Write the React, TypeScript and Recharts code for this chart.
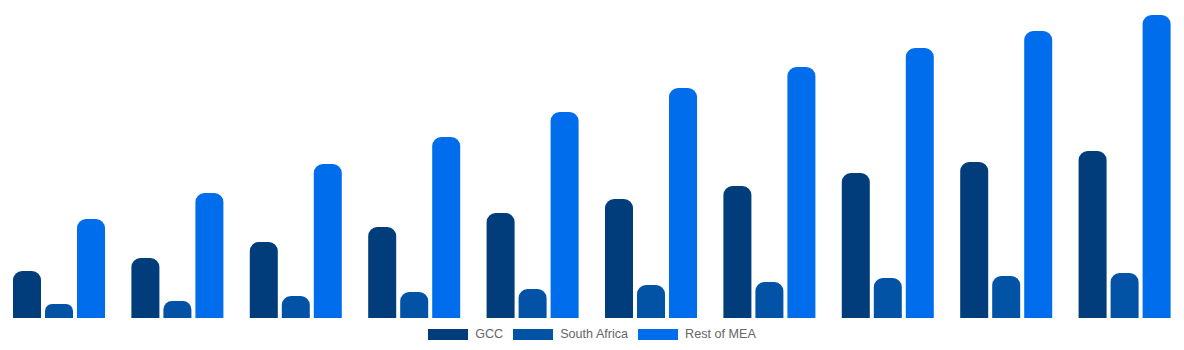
import { BarChart, Bar, XAxis, YAxis, Legend } from 'recharts';

const years = ['2024', '2025', '2026', '2027', '2028', '2029', '2030', '2031', '2032', '2033'];
const gcc = [4.7, 6.0, 7.6, 9.1, 10.5, 11.9, 13.2, 14.5, 15.6, 16.7];
const southAfrica = [1.4, 1.7, 2.2, 2.6, 2.9, 3.3, 3.6, 4.0, 4.2, 4.5];
const restOfMea = [9.9, 12.5, 15.4, 18.1, 20.6, 23.0, 25.1, 27.0, 28.7, 30.3];

const SERIES = [
    { key: 'gcc', name: 'GCC', color: '#023d7b' },
    { key: 'southAfrica', name: 'South Africa', color: '#0253a6' },
    { key: 'restOfMea', name: 'Rest of MEA', color: '#006ded' },
];

const data = years.map((year, i) => ({
    year,
    gcc: gcc[i],
    southAfrica: southAfrica[i],
    restOfMea: restOfMea[i],
}));

const CustomLegend = () => (
    <div
        style={{
            display: 'flex',
            justifyContent: 'center',
            alignItems: 'center',
            paddingTop: 9,
            fontFamily: '"Liberation Sans", Arial, sans-serif',
            fontSize: 12.6,
            color: '#666',
        }}
    >
        {SERIES.map((s, index) => (
            <div key={index} style={{ display: 'flex', alignItems: 'center', marginRight: index < SERIES.length - 1 ? 10 : 0 }}>
                <div style={{ width: 40, height: 11, backgroundColor: s.color, marginRight: 7 }} />
                <span>{s.name}</span>
            </div>
        ))}
    </div>
);

export default function App() {
    return (
        <div style={{ position: 'absolute', left: 0, top: 0, width: 1184, height: 350, background: '#fff' }}>
            <BarChart
                width={1184}
                height={350}
                data={data}
                margin={{ top: 15, right: 0, bottom: 0, left: 0 }}
                barCategoryGap={13}
                barGap={4}
            >
                <XAxis dataKey="year" hide />
                <YAxis hide domain={[0, 30.3]} />
                <Legend verticalAlign="bottom" height={32} content={<CustomLegend />} />
                {SERIES.map((s) => (
                    <Bar
                        key={s.key}
                        dataKey={s.key}
                        name={s.name}
                        fill={s.color}
                        radius={[9, 9, 0, 0]}
                        isAnimationActive={false}
                    />
                ))}
            </BarChart>
        </div>
    );
}
